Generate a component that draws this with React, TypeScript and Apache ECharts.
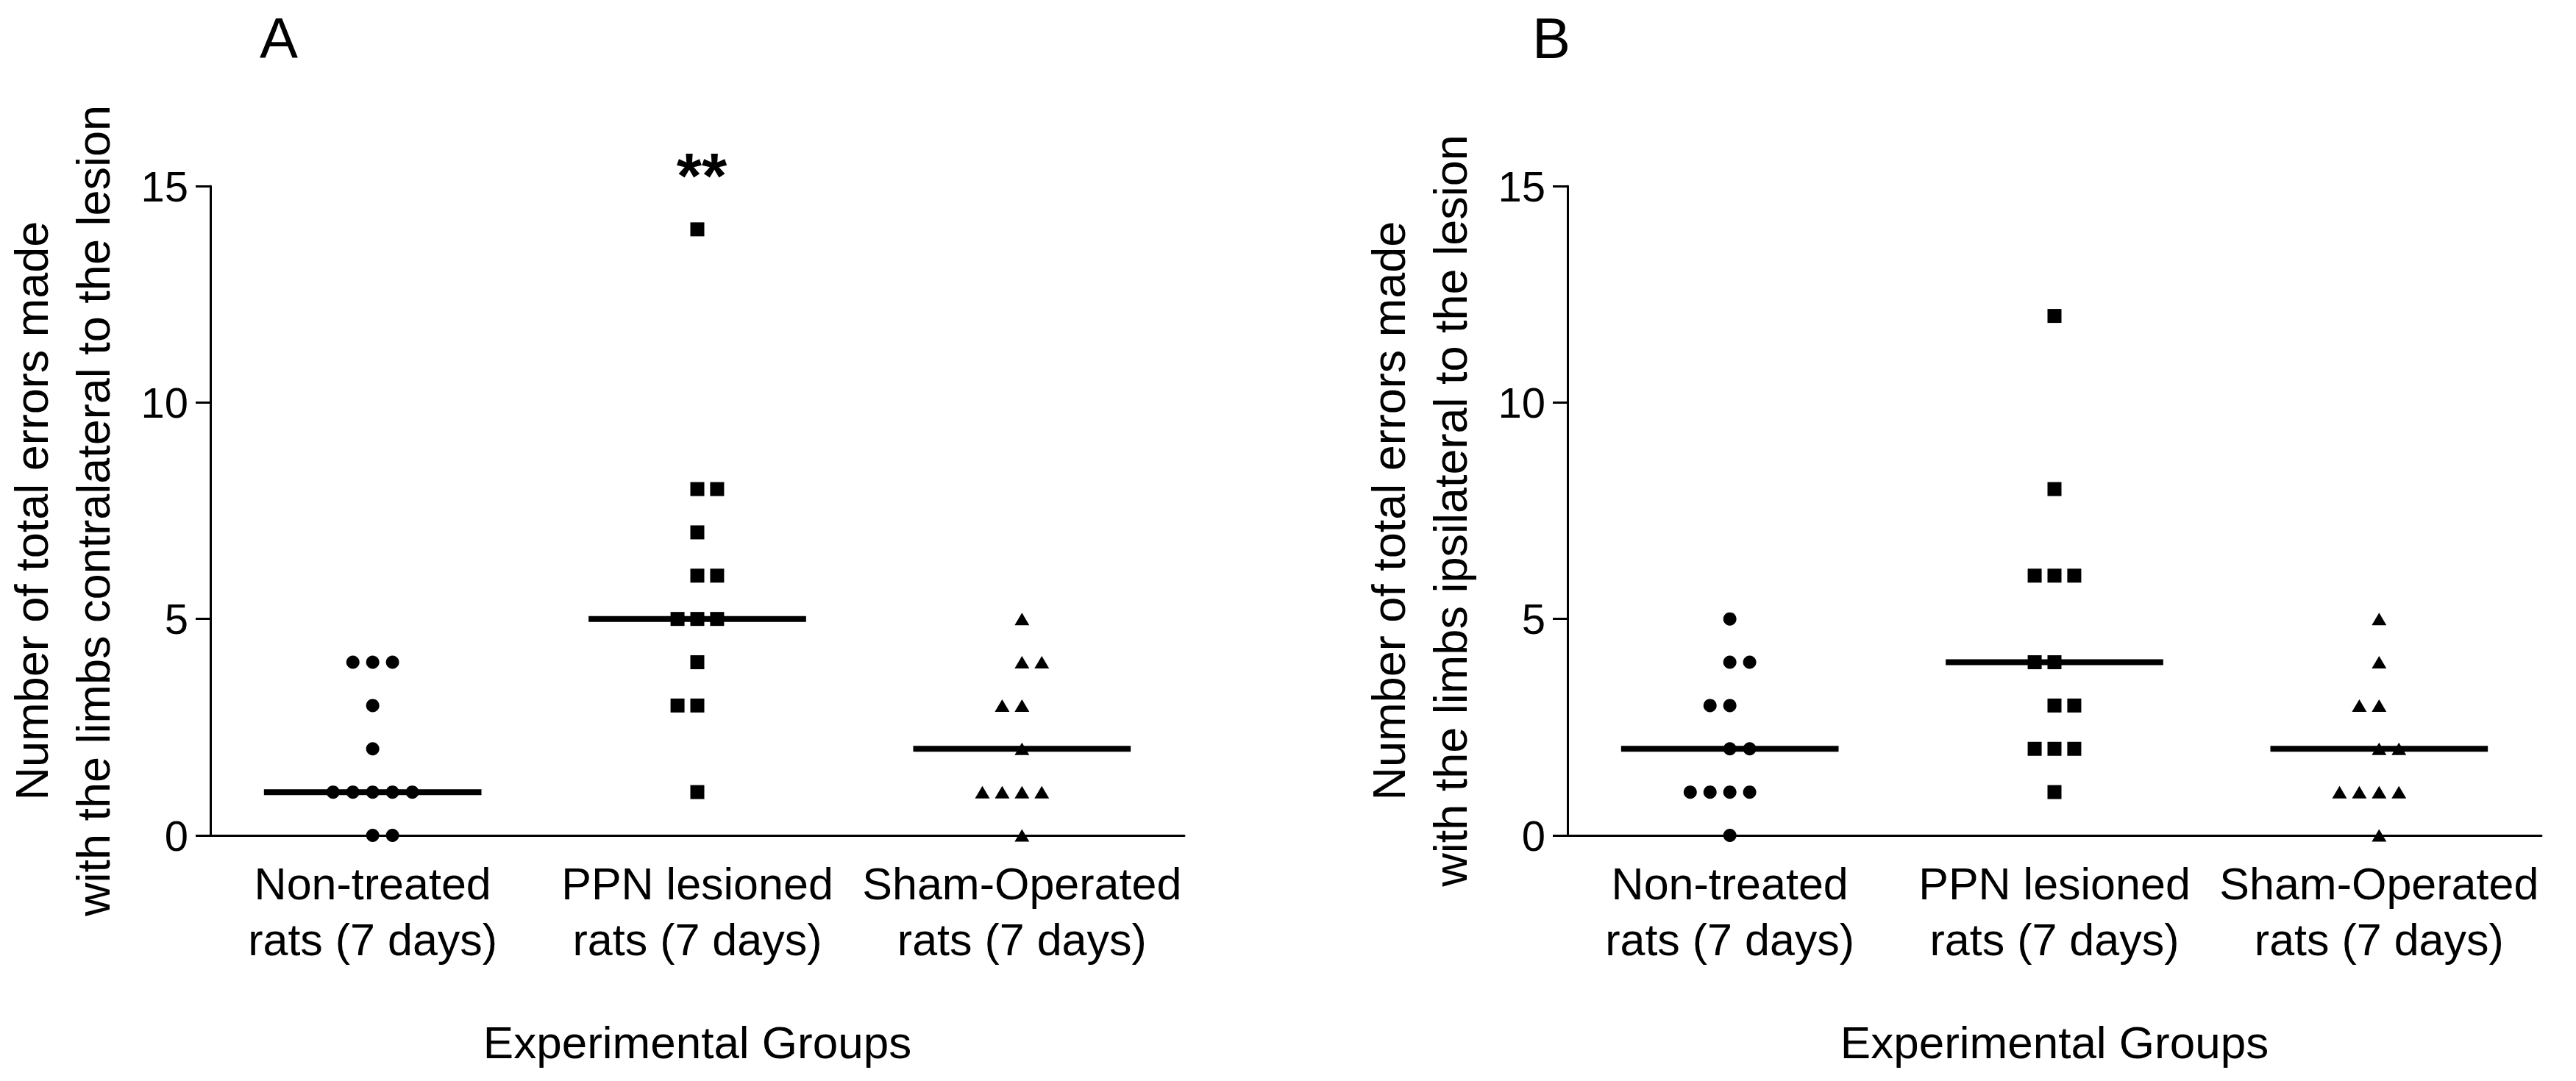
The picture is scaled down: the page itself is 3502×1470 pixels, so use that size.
import React, { useEffect, useRef } from 'react';
import * as echarts from 'echarts';

// ---------- data ----------
const CATEGORIES = ['Non-treated\nrats (7 days)', 'PPN lesioned\nrats (7 days)', 'Sham-Operated\nrats (7 days)'];
const X_TITLE = 'Experimental Groups';
const Y_TITLE_A = 'Number of total errors made\nwith the limbs contralateral to the lesion';
const Y_TITLE_B = 'Number of total errors made\nwith the limbs ipsilateral to the lesion';
const Y_MIN = 0;
const Y_MAX = 15;
const Y_INTERVAL = 5;

// Panel A (contralateral): values and the column slot each dot occupies
const A_NON_VALUES = [4, 4, 4, 3, 2, 1, 1, 1, 1, 1, 0, 0];
const A_NON_SLOTS = [-1, 0, 1, 0, 0, -2, -1, 0, 1, 2, 0, 1];
const A_PPN_VALUES = [14, 8, 8, 7, 6, 6, 5, 5, 5, 4, 3, 3, 1];
const A_PPN_SLOTS = [0, 0, 1, 0, 0, 1, -1, 0, 1, 0, -1, 0, 0];
const A_SHAM_VALUES = [5, 4, 4, 3, 3, 2, 1, 1, 1, 1, 0];
const A_SHAM_SLOTS = [0, 0, 1, -1, 0, 0, -2, -1, 0, 1, 0];

// Panel B (ipsilateral)
const B_NON_VALUES = [5, 4, 4, 3, 3, 2, 2, 1, 1, 1, 1, 0];
const B_NON_SLOTS = [0, 0, 1, -1, 0, 0, 1, -2, -1, 0, 1, 0];
const B_PPN_VALUES = [12, 8, 6, 6, 6, 4, 4, 3, 3, 2, 2, 2, 1];
const B_PPN_SLOTS = [0, 0, -1, 0, 1, -1, 0, 0, 1, -1, 0, 1, 0];
const B_SHAM_VALUES = [5, 4, 3, 3, 2, 2, 1, 1, 1, 1, 0];
const B_SHAM_SLOTS = [0, 0, -1, 0, 0, 1, -2, -1, 0, 1, 0];

const SIGNIFICANCE_A = '**';

// ---------- style ----------
const FONT = "'Liberation Sans', Arial, sans-serif";
const BLACK = '#000';
const SLOT_WIDTH = 0.061; // in band units
const MEDIAN_HALF = 0.335; // in band units
const SYMBOLS = ['circle', 'rect', 'triangle'];
const SYMBOL_SIZES: any[] = [18, 19, [20, 17]];

function median(arr: number[]) {
  const s = [...arr].sort((a, b) => a - b);
  const n = s.length;
  return n % 2 ? s[(n - 1) / 2] : (s[n / 2 - 1] + s[n / 2]) / 2;
}

function panelSeries(panel: number, groups: { values: number[]; slots: number[] }[]) {
  const series: any[] = [];
  groups.forEach((g, gi) => {
    series.push({
      type: 'scatter',
      xAxisIndex: panel * 2 + 1,
      yAxisIndex: panel,
      symbol: SYMBOLS[gi],
      symbolSize: SYMBOL_SIZES[gi],
      itemStyle: { color: BLACK, opacity: 1 },
      data: g.values.map((v, k) => [gi + g.slots[k] * SLOT_WIDTH, v]),
      z: 2,
    });
    const m = median(g.values);
    series.push({
      type: 'line',
      xAxisIndex: panel * 2 + 1,
      yAxisIndex: panel,
      symbol: 'none',
      lineStyle: { color: BLACK, width: 8 },
      data: [
        [gi - MEDIAN_HALF, m],
        [gi + MEDIAN_HALF, m],
      ],
      z: 3,
    });
  });
  return series;
}

function xAxes(gridIndex: number) {
  return [
    {
      type: 'category',
      gridIndex,
      data: CATEGORIES,
      boundaryGap: true,
      axisLine: { onZero: false, lineStyle: { color: BLACK, width: 3 } },
      axisTick: { show: false },
      axisLabel: {
        interval: 0,
        fontSize: 61,
        lineHeight: 76,
        margin: 28,
        color: BLACK,
        fontFamily: FONT,
      },
      splitLine: { show: false },
      name: X_TITLE,
      nameLocation: 'middle',
      nameGap: 250,
      nameTextStyle: { fontSize: 62, color: BLACK, fontFamily: FONT },
    },
    {
      type: 'value',
      gridIndex,
      min: -0.5,
      max: 2.5,
      show: false,
      splitLine: { show: false },
    },
  ];
}

function yAxis(gridIndex: number, title: string) {
  return {
    type: 'value',
    gridIndex,
    min: Y_MIN,
    max: Y_MAX,
    interval: Y_INTERVAL,
    axisLine: { show: true, onZero: false, lineStyle: { color: BLACK, width: 3 } },
    axisTick: { show: true, length: 20, lineStyle: { color: BLACK, width: 3 } },
    axisLabel: { fontSize: 58, margin: 30, color: BLACK, fontFamily: FONT },
    splitLine: { show: false },
    name: title,
    nameLocation: 'middle',
    nameRotate: 90,
    nameGap: 117,
    nameTextStyle: { fontSize: 63, lineHeight: 84, color: BLACK, fontFamily: FONT },
  };
}

export default function App() {
  const ref = useRef<HTMLDivElement>(null);
  useEffect(() => {
    document.body.style.margin = '0';
    const chart = echarts.init(ref.current!, null, { renderer: 'svg' });
    const option: any = {
      animation: false,
      backgroundColor: '#fff',
      textStyle: { fontFamily: FONT, color: BLACK },
      grid: [
        { left: 285, top: 253, width: 1325, height: 883 },
        { left: 2131, top: 253, width: 1324, height: 883 },
      ],
      xAxis: [...xAxes(0), ...xAxes(1)],
      yAxis: [yAxis(0, Y_TITLE_A), yAxis(1, Y_TITLE_B)],
      series: [
        ...panelSeries(0, [
          { values: A_NON_VALUES, slots: A_NON_SLOTS },
          { values: A_PPN_VALUES, slots: A_PPN_SLOTS },
          { values: A_SHAM_VALUES, slots: A_SHAM_SLOTS },
        ]),
        ...panelSeries(1, [
          { values: B_NON_VALUES, slots: B_NON_SLOTS },
          { values: B_PPN_VALUES, slots: B_PPN_SLOTS },
          { values: B_SHAM_VALUES, slots: B_SHAM_SLOTS },
        ]),
      ],
      graphic: [
        {
          type: 'text',
          x: 379,
          y: 52,
          style: { text: 'A', fontSize: 78, fontFamily: FONT, fill: BLACK, align: 'center', verticalAlign: 'middle' },
        },
        {
          type: 'text',
          x: 2109,
          y: 52,
          style: { text: 'B', fontSize: 78, fontFamily: FONT, fill: BLACK, align: 'center', verticalAlign: 'middle' },
        },
        {
          type: 'text',
          x: 954,
          y: 238,
          style: {
            text: SIGNIFICANCE_A,
            fontSize: 88,
            fontWeight: 'bold',
            fontFamily: FONT,
            fill: BLACK,
            align: 'center',
            verticalAlign: 'middle',
          },
        },
      ],
    };
    chart.setOption(option);
    return () => chart.dispose();
  }, []);
  return <div ref={ref} style={{ width: 3502, height: 1470, background: '#fff' }} />;
}
